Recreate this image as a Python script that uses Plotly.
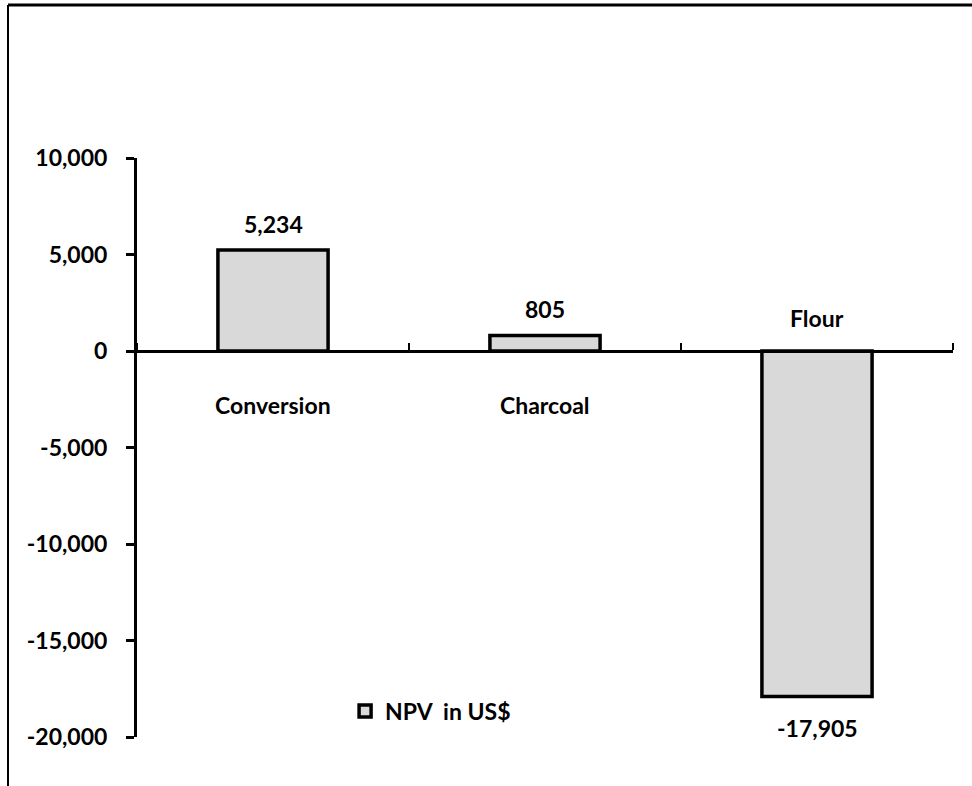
import plotly.graph_objects as go

categories = ["Conversion", "Charcoal", "Flour"]
npv_values = [5234, 805, -17905]
value_labels = ["5,234", "805", "-17,905"]
series_name = "NPV\u00a0 in US$"
y_tick_vals = [10000, 5000, 0, -5000, -10000, -15000, -20000]
y_tick_text = ["10,000", "5,000", "0", "-5,000", "-10,000", "-15,000", "-20,000"]

FONT = "Lato"
FS = 23
W, H = 972, 786
ML, MR, MT, MB = 137, 19, 158, 49
YMIN, YMAX = -20000, 10000

fig = go.Figure()
fig.add_trace(go.Bar(
    x=categories, y=npv_values, name="<b>%s</b>" % series_name,
    marker=dict(color="#d9d9d9", line=dict(color="black", width=3.5)),
    width=0.405, showlegend=True,
))

# data labels
for c, v, t in zip(categories, npv_values, value_labels):
    fig.add_annotation(x=c, y=v, text="<b>%s</b>" % t, showarrow=False,
                       yanchor="middle", yshift=26 if v >= 0 else -31,
                       font=dict(family=FONT, size=FS, color="black"))

# category labels
cat_shift = {"Conversion": -54, "Charcoal": -54, "Flour": 33}
for c in categories:
    fig.add_annotation(x=c, y=0, text="<b>%s</b>" % c, showarrow=False,
                       yanchor="middle", yshift=cat_shift[c],
                       font=dict(family=FONT, size=FS, color="black"))

# outer frame (top and left edges)
pw = W - ML - MR
ph = H - MT - MB
fx = (8 - ML) / pw
fy_top = (H - MB - 5) / ph
fy_bot = (H - MB - H - 5) / ph
fig.add_shape(type="line", xref="paper", yref="paper", x0=fx, x1=(W + 5 - ML) / pw,
              y0=fy_top, y1=fy_top, line=dict(color="black", width=3))
fig.add_shape(type="line", xref="paper", yref="paper", x0=fx, x1=fx,
              y0=fy_top, y1=fy_bot, line=dict(color="black", width=2))

fig.update_layout(
    width=W, height=H,
    margin=dict(l=ML, r=MR, t=MT, b=MB),
    paper_bgcolor="white", plot_bgcolor="white",
    font=dict(family=FONT, size=FS, color="black"),
    xaxis=dict(
        anchor="free", position=(0 - YMIN) / (YMAX - YMIN), side="top",
        showline=True, linecolor="black", linewidth=3,
        ticks="outside", tickson="boundaries", ticklen=7, tickwidth=2, tickcolor="black",
        showticklabels=False, showgrid=False, zeroline=False,
        range=[-0.5, 2.5],
    ),
    yaxis=dict(
        range=[YMIN, YMAX], tickvals=y_tick_vals, ticktext=["<b>%s</b>" % t for t in y_tick_text],
        showline=True, linecolor="black", linewidth=3,
        ticks="outside", ticklen=8, tickwidth=3, tickcolor="black",
        showgrid=False, zeroline=False, ticklabelstandoff=14,
        tickfont=dict(family=FONT, size=FS, color="black"),
    ),
    legend=dict(x=0.255, y=0.045, xanchor="left", yanchor="middle",
                font=dict(family=FONT, size=FS, color="black"),
                bgcolor="rgba(0,0,0,0)"),
)

fig.write_html("out.html")
